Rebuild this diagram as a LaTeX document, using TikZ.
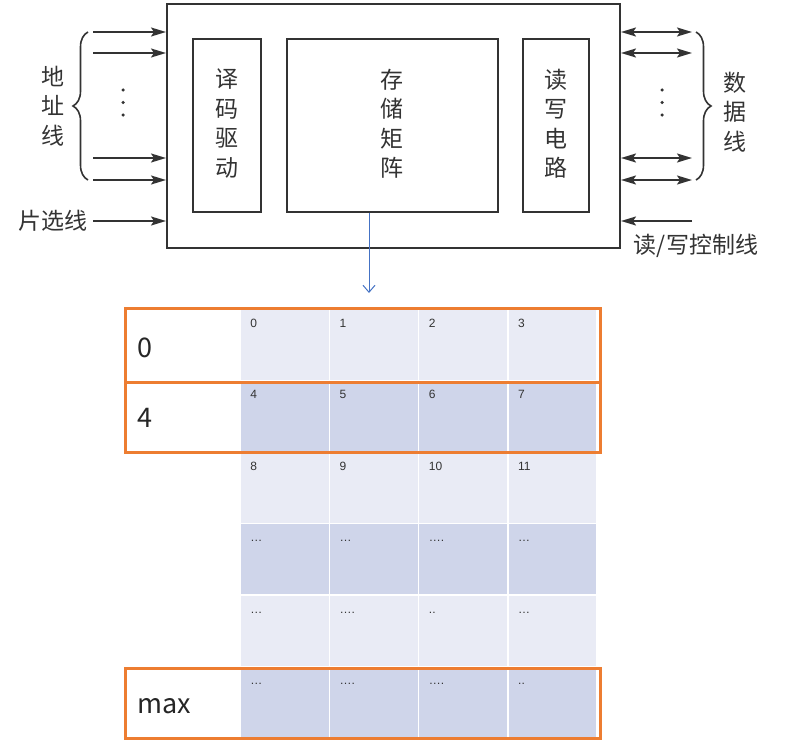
\documentclass[tikz,border=0pt]{standalone}
\usepackage{fontspec}
\newfontfamily\cjk{Noto Sans CJK SC}
\newfontfamily\lat{Liberation Sans}
\usetikzlibrary{arrows.meta,decorations.pathreplacing,calc}
\definecolor{ink}{HTML}{333333}
\definecolor{cellA}{HTML}{E9EBF5}
\definecolor{cellB}{HTML}{CFD5EA}
\definecolor{obox}{HTML}{ED7D31}
\definecolor{blu}{HTML}{4472C4}
\begin{document}
\begin{tikzpicture}[x=1pt,y=-1pt,
  box/.style={draw=ink,line width=2pt,inner sep=0pt},
  zh/.style={font=\cjk\fontsize{23}{29.5}\selectfont,text=ink,align=center,inner sep=0pt},
  arr/.style={draw=ink,line width=1.8pt,-{Stealth[length=15pt,width=9pt,inset=3pt]}},
  darr/.style={draw=ink,line width=1.8pt,{Stealth[length=15pt,width=9pt,inset=3pt]}-{Stealth[length=15pt,width=9pt,inset=3pt]}},
  brc/.style={draw=ink,line width=1.6pt,decorate,decoration={brace,amplitude=15pt}},
  dotc/.style={fill=ink,circle,inner sep=0pt,minimum size=3.5pt},
  cell/.style={draw=white,line width=1.5pt,minimum width=89.25pt,minimum height=71.5pt,inner sep=0pt},
  num/.style={anchor=base west,inner sep=0pt,font=\lat\fontsize{12}{12}\selectfont,text=black!80},
  orow/.style={draw=obox,line width=3pt,minimum width=475pt,inner sep=0pt},
  rlab/.style={anchor=base west,inner sep=0pt,font=\cjk\fontsize{27}{30}\selectfont,text=black!85}]
\path[use as bounding box,fill=white] (0,0) rectangle (793,752);

% chip
\node[box,minimum width=453pt,minimum height=244pt] (chip) at (393.5,126) {};
\node[box,minimum width=68pt,minimum height=173pt] (dec) at (227,125.5) {};
\node[box,minimum width=211pt,minimum height=173pt] (mat) at (392.5,125.5) {};
\node[box,minimum width=66pt,minimum height=173pt] (rw) at (556,125.5) {};
\node[zh] (tdec) at (227,123.5) {译\\码\\驱\\动};
\node[zh] (tmat) at (392,123.5) {存\\储\\矩\\阵};
\node[zh] (trw) at (556,123.5) {读\\写\\电\\路};

% left address lines
\foreach \i/\yy in {1/32,2/53,3/158,4/180}{
  \coordinate (l\i) at (93,\yy);
  \draw[arr] (l\i) -- (l\i -| chip.west);
}
\coordinate (cs) at (93,221);
\draw[arr] (cs) -- (cs -| chip.west);
\foreach \i/\yy in {1/90,2/102.5,3/115}{\node[dotc] (ld\i) at (123,\yy) {};}
\draw[brc] (88,180) -- (88,32);
\node[zh] (taddr) at (53,106) {地\\址\\线};
\node[zh,anchor=east] (tcs) at (88,221) {片选线};

% right data lines
\foreach \i/\yy in {1/32,2/53,3/158,4/180}{
  \coordinate (r\i) at (692,\yy);
  \draw[darr] (r\i -| chip.east) -- (r\i);
}
\coordinate (rwc) at (692,221);
\draw[arr] (rwc) -- (rwc -| chip.east);
\foreach \i/\yy in {1/90,2/102.5,3/115}{\node[dotc] (rd\i) at (662,\yy) {};}
\draw[brc] (696,32) -- (696,180);
\node[zh] (tdata) at (735,112) {数\\据\\线};
\node[zh] (trwc) at (696,246) {读/写控制线};

% blue arrow
\coordinate (bt) at (369,293);
\draw[blu,line width=1pt,-{Straight Barb[length=7pt,width=12pt]}] (mat.south -| bt) -- (bt);

% table cells
\foreach \r/\labs in {0/{0,1,2,3},1/{4,5,6,7},2/{8,9,10,11},3/{…,…,….,…},4/{…,….,..,…},5/{…,….,….,..}}{
  \ifodd\r \def\cf{cellB}\else\def\cf{cellA}\fi
  \foreach \t [count=\c from 0] in \labs {
    \node[cell,fill=\cf] (c\r\c) at ({240+89.25*\c+44.625},{309+71.5*\r+35.75}) {};
    \node[num] (n\r\c) at ($(c\r\c.north west)+(11,19)$) {\t};
  }
}
\node[orow,minimum height=74pt] (o0) at (362.5,345) {};
\node[orow,minimum height=70pt] (o1) at (362.5,417) {};
\node[orow,minimum height=70pt] (o5) at (362.5,703) {};
\node[rlab] (lab0) at (137,357) {0};
\node[rlab] (lab1) at (137,427) {4};
\node[rlab] (lab5) at (137,713) {max};
\end{tikzpicture}
\end{document}
